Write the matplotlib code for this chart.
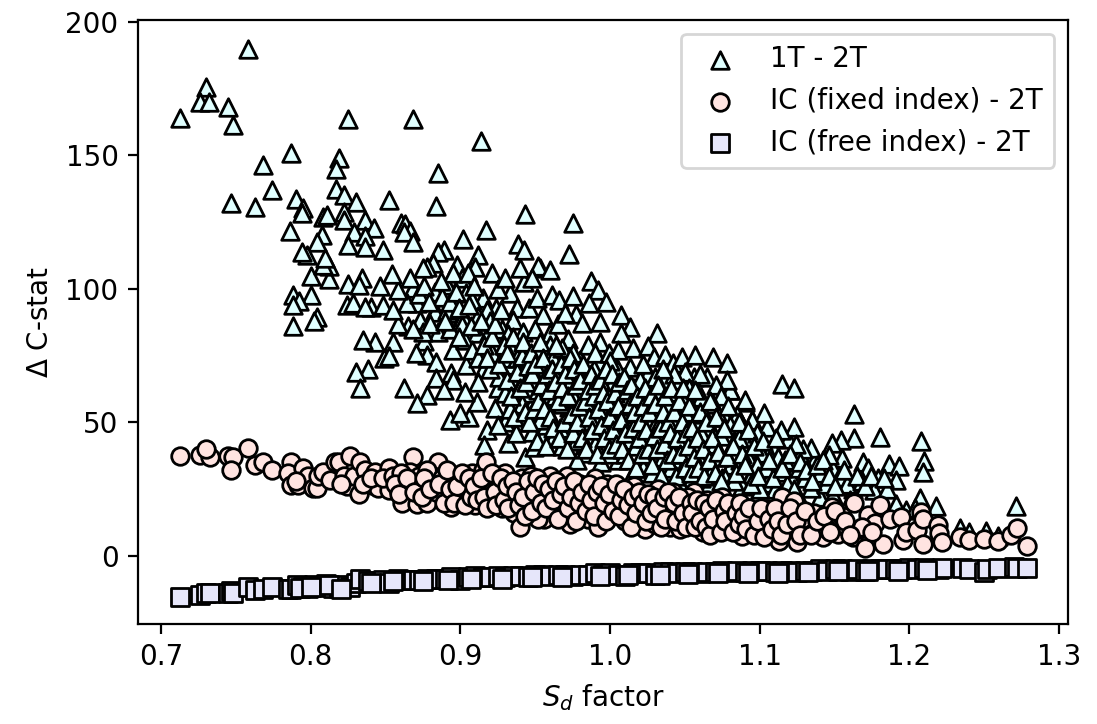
import matplotlib
matplotlib.use('Agg')
import matplotlib.pyplot as plt

# (Sd factor, delta C-stat)
tri_points = [
    (.758,190),(.730,175.6),(.726,170),(.732,170),(.7127,164),(.745,168),(.748,161.4),(.825,163.6),(.868,163.6),(.914,155.4),
    (.787,151),(.768,146.4),(.819,149),(.817,145),(.885,143.4),(.774,137),(.817,137.5),(.747,132),(.763,130.7),(.790,133.7),
    (.795,130.3),(.794,128.5),(.822,135),(.830,132.6),(.852,133.3),(.884,131),(.822,128.8),(.822,125.8),(.808,127),(.811,127.7),
    (.786,121.7),(.836,125.8),(.842,122.8),(.829,121.3),(.836,119.8),(.825,116.5),(.836,115.7),(.8075,120),(.804,117.6),(.848,114.6),
    (.860,124.7),(.863,124.3),(.866,121.7),(.862,121.3),(.868,117.6),(.902,118.7),(.917,122),(.889,114.6),(.885,113.9),(.912,112.7),
    (.882,109.7),(.898,109),(.910,108.2),(.878,108.2),(.875,107.9),(.921,106),(.901,104),(.891,101.5),(.883,98.9),(.904,98.5),
    (.915,96.6),(.924,92.9),(.894,91),(.883,92),(.902,90.3),(.868,100.4),(.871,94.8),(.864,94.8),(.858,99.6),(.854,105.6),
    (.866,104),(.846,101),(.834,104),(.825,102),(.832,101.5),(.824,94),(.828,94.8),(.840,93.3),(.836,93.3),(.848,94),
    (.812,103.7),(.800,104.9),(.812,108.6),(.808,109),(.8095,111.6),(.7975,112.7),(.794,113.9),(.800,97.8),(.788,97.8),(.792,95.5),
    (.788,94),(.804,89.5),(.788,86),(.802,88),(.943,128),(.975,124.5),(.9385,116.8),(.9425,114.6),(.9725,113),(.953,107.9),
    (.952,108.5),(.96,107),(.987,103),(.992,99.6),(.9425,102.6),(.933,98.5),(.918,92),(.938,92.9),(.946,92.9),(.951,96.6),
    (.961,97.8),(.966,95.9),(.975,97.4),(.986,94.8),(.997,95.1),(1.007,90.3),(1.013,85.8),(1.007,83.5),(.993,87.6),(.977,90.6),
    (.981,87.3),(.955,90.3),(.935,88.4),(.883,91.4),(.902,89.5),(.873,88.4),(.885,83.9),(.901,86.5),(.911,83.5),(.919,83.9),
    (.942,83.9),(.96,83.5),(.972,81.3),(.993,80.1),(.985,79),(.98,73.4),(1.031,83.5),(1.015,77.9),(1.025,78.7),(1.029,74.5),
    (1.037,75.3),(1.042,72.3),(1.048,74.5),(1.057,75.3),(1.069,74.5),(1.078,72.3),(.876,80.5),(.895,77.2),(.903,80.9),(.878,75.3),
    (.884,72.7),(.904,71.5),(.916,70.4),(.894,68.5),(.884,66.7),(.912,65.2),(.925,62.9),(.862,62.9),(.878,60.3),(.871,57.3),
    (.893,51),(.906,52),(.900,53.6),(.911,57.7),(.903,61.4),(.923,55.4),(.918,47.2),(.916,41.6),(.932,42.3),(.943,37),
    (.949,40.8),(.93,50.2),(.942,50.2),(.948,46.4),(.955,45.3),(.936,66.7),(.926,67),(.936,58.4),(.939,62.9),(.949,58.4),
    (.9585,65.2),(.969,62.9),(.982,61.4),(1.0,61.4),(.9585,53.9),(.9725,55.8),(.983,53.6),(.9665,47.9),(.9845,47.9),(.998,53.9),
    (1.011,55.8),(1.028,58.4),(1.025,68.5),(1.005,69.7),(.993,72.7),(.9705,72.3),(.9465,72.3),(.933,71.5),(1.013,70.8),(1.042,61.4),
    (1.051,59.6),(1.061,59.6),(1.056,67),(1.065,67),(1.08,62.2),(1.09,57.7),(1.037,54.7),(1.045,51.7),(1.059,50.2),(1.067,48.3),
    (1.077,52),(1.085,52.8),(1.095,51),(1.025,49.8),(1.013,43.4),(1.007,47.2),(.998,46.4),(1.001,42.7),(.995,40.4),(.982,38.6),
    (1.005,36),(1.015,31),(1.045,36),(1.057,42.3),(1.065,38.6),(1.043,44.6),(1.035,44.6),(1.081,34),(1.094,30.3),(1.075,29.2),
    (1.055,29.2),(1.038,29.6),(1.033,34.8),(1.115,64.4),(1.123,63),(1.163,53),(1.163,44),(1.154,43.4),(1.148,42.3),(1.18,44.5),
    (1.208,43),(1.21,35.6),(1.209,31.5),(1.169,35),(1.172,33),(1.186,34.5),(1.193,33.7),(1.191,28.5),(1.179,29),(1.176,24.7),
    (1.162,25),(1.155,36.7),(1.149,32.6),(1.153,29.6),(1.136,35.6),(1.134,40.4),(1.129,36),(1.146,37.8),(1.14,22),(1.134,25.5),
    (1.149,22.8),(1.207,21.7),(1.218,18.7),(1.198,17.2),(1.191,19.5),(1.234,10.5),(1.24,9),(1.251,9.5),(1.259,7.5),(1.271,18.7),
    (1.119,43.8),(1.108,41),(1.105,48.4),(1.103,53.5),(1.123,48.4),(1.114,47),(1.095,51),(1.09,58.4),(1.085,52.8),(1.077,52),
    (1.08,62),(1.078,66),(1.083,42.7),(1.089,42.3),(1.101,38.6),(1.108,36),(1.113,31.5),(1.121,29.6),(1.105,27.3),(1.095,30.7),
    (1.081,34),(1.077,29),(.952,76),(.956,70),(.962,74),(.966,68),(.944,78),(.951,66),(.942,69),(.946,61),
    (.934,78),(.929,74),(.925,80),(.921,76),(.938,74),(.952,62),(.957,59),(.963,60),(.968,57),(.974,66),
    (.978,69),(.984,66),(.989,70),(.996,66),(1.002,65),(1.008,63),(.976,59),(.989,56),(.994,59),(1.003,57),
    (1.009,60),(1.016,63),(1.02,66),(1.021,60),(1.019,54),(1.014,51),(1.008,53),(1.003,50),(.991,51),(.985,44),
    (.977,43),(.972,50),(.962,44),(.957,49),(.953,51),(.968,41),(.978,36),(.99,42),(.994,35),(1.0,38),
    (1.01,38),(1.017,41),(1.023,44),(1.027,41),(1.03,49),(1.034,51),(1.039,57),(1.033,62),(1.036,66),(1.047,66),
    (1.05,69),(1.043,68),(1.053,63),(1.06,68),(1.071,64),(1.074,60),(1.069,57),(1.055,55),(1.05,54),(1.063,53),
    (1.072,53),(1.08,49),(1.088,49),(1.093,44),(1.098,46),(1.086,44),(1.074,45),(1.07,42),(1.061,46),(1.053,47),
    (1.049,42),(1.039,40),(1.028,37),(1.022,33),(1.028,31),(1.035,37),(1.041,33),(1.049,33),(1.053,37),(1.061,35),
    (1.069,33),(1.073,37),(1.087,36),(1.092,37),(1.098,34),(1.104,33),(1.112,37),(1.117,36),(1.126,33),(1.129,40),
    (1.124,42),(1.14,31),(1.144,27),(1.13,29),(1.118,27),(1.11,25),(1.1,25),(1.088,26),(1.083,28),(1.066,27),
    (1.061,29),(1.047,27),(1.125,23),(1.158,27),(1.168,28),(1.185,25),(1.204,18),(.968,78),(.975,76),(.99,76),
    (.999,76),(1.005,77),(.96,79),(1.0,73),(1.022,72),(1.03,67),(1.035,70),(.92,88),(.928,85),(.932,83),
    (.908,77),(.912,74),(.92,70),(.93,61),(.941,57),(.933,55),(.925,49),(.937,46),(.908,96),(.893,85),
    (.891,92),(.875,84),(.865,86),(.858,87),(.855,80),(.843,80),(.849,74),(.852,75),(.835,81),(.838,70),
    (.83,69),(.833,63),(.895,106),(.888,97),(.905,106),(.925,100),(.93,104),(.94,108),(.948,104),(.965,87),
    (.97,91),(.95,85),(.912,90),(.895,66),(.889,62),(.87,76),(.868,85),(.855,92),
    # denser part of the band
    (.872,98),(.876,101),(.879,95),(.88,87),(.887,103),(.89,88),(.893,95),(.897,99),(.899,93),(.899,82),
    (.906,94),(.907,86),(.909,101),(.914,88),(.916,79),(.918,74),(.921,82),(.923,87),(.926,72),(.927,92),
    (.929,79),(.931,66),(.931,76),(.934,60),(.935,82),(.936,52),(.938,69),(.94,63),(.941,75),(.942,80),
    (.943,54),(.944,65),(.945,71),(.946,50),(.947,76),(.948,68),(.949,55),(.95,72),(.951,43),(.952,58),
    (.953,80),(.954,64),(.955,74),(.956,55),(.957,41),(.958,68),(.959,62),(.96,52),(.961,70),(.962,48),
    (.963,65),(.964,79),(.965,58),(.966,44),(.967,72),(.968,63),(.969,50),(.97,68),(.971,40),(.972,60),
    (.973,74),(.974,53),(.975,46),(.976,70),(.977,64),(.978,50),(.979,56),(.98,66),(.981,44),(.982,72),
    (.983,58),(.984,40),(.985,62),(.986,52),(.987,68),(.988,47),(.989,60),(.99,64),(.991,38),(.992,55),
    (.993,66),(.994,49),(.995,61),(.996,44),(.997,70),(.998,58),(.999,40),(1.0,52),(1.001,68),(1.002,47),
    (1.003,61),(1.004,42),(1.005,56),(1.006,65),(1.007,51),(1.008,40),(1.009,67),(1.01,46),(1.011,62),(1.012,36),
    (1.013,57),(1.014,64),(1.015,48),(1.016,54),(1.017,33),(1.018,60),(1.019,44),(1.02,50),(1.021,38),(1.022,56),
    (1.023,63),(1.024,47),(1.025,40),(1.026,54),(1.027,60),(1.028,34),(1.029,45),(1.03,57),(1.031,40),(1.032,64),
    (1.033,48),(1.034,30),(1.035,54),(1.036,42),(1.037,60),(1.038,36),(1.039,50),(1.04,46),(1.041,63),(1.042,38),
    (1.043,54),(1.044,30),(1.045,44),(1.046,58),(1.047,38),(1.048,50),(1.049,63),(1.05,33),(1.051,46),(1.052,41),
    (1.053,56),(1.054,31),(1.055,48),(1.056,37),(1.057,62),(1.058,44),(1.059,33),(1.06,54),(1.062,40),(1.063,30),
    (1.064,50),(1.066,36),(1.067,58),(1.068,44),(1.07,31),(1.071,52),(1.072,39),(1.074,28),(1.076,48),(1.078,37),
    (1.079,56),(1.082,41),(1.084,31),(1.086,50),(1.088,38),(1.09,34),(1.092,47),(1.094,27),(1.096,41),(1.099,30),
    (1.102,43),(1.106,36),(1.109,29),(1.111,44),(1.115,33),(1.12,38),(1.123,25),(1.127,35),(1.131,32),(1.135,28),
    (1.138,34),(1.142,36),(1.146,30),(1.15,26),(1.156,32),(1.16,21),(1.165,30),(1.17,26),(1.174,30),(1.183,29),
]
circ_points = [
    (.7127,37.4),(.726,37.8),(.733,37),(.730,40),(.745,37.5),(.748,37),(.747,32),(.758,40.4),(.763,34),(.768,35),
    (.774,32),(.787,35),(.785,31),(.787,26.6),(.7915,26.5),(.795,33),(.798,30),(.8015,25.5),(.804,25.5),(.805,30),
    (.808,31.5),(.813,28.5),(.816,35),(.819,35),(.822,30),(.824,26),(.826,37.5),(.829,30),(.832,23),(.833,35),
    (.836,32),(.841,26.5),(.843,31.5),(.845,25.5),(.852,33),(.852,24.5),(.858,25),(.861,20),(.868,37),(.868,27.7),
    (.866,31.5),(.871,19.5),(.878,20),(.885,35),(.884,24),(.882,30),(.894,23),(.894,18.5),(.902,27),(.79,28),
    (.82,27),(.835,27),(.84,29),(.848,29),(.855,30),(.86,31),(.863,26),(.872,30),(.875,26),(.878,32),
    (.888,29),(.89,27),(.897,29),(.9,21),(.905,25),(.908,31),(.91,19),(.913,24),(.915,32),(.917,35),
    (.92,28),(.922,20),(.925,26),(.928,18),(.93,31),(.933,23),(.936,16),(.938,21),(.94,11),(.941,29),
    (.944,25),(.947,30),(.95,19),(.953,26),(.956,14),(.958,22),(.96,30),(.963,17),(.966,25),(.968,20),
    (.971,30),(.973,12),(.975,24),(.978,16),(.98,27),(.983,20),(.985,14),(.988,25),(.99,29),(.992,11),
    (.995,18),(.998,27),(1.0,15),(1.003,22),(1.005,25),(1.008,20),(1.01,13),(1.013,18),(1.016,26),(1.018,14),
    (1.02,23),(1.023,10),(1.026,17),(1.028,20),(1.03,12),(1.032,25),(1.035,15),(1.038,20),(1.04,11),(1.042,24),
    (1.045,15),(1.047,10),(1.05,19),(1.053,13),(1.056,24),(1.059,17),(1.062,9),(1.065,21),(1.068,14),(1.07,19),
    (1.073,11),(1.075,22),(1.078,10.5),(1.081,14.6),(1.085,18.7),(1.088,7.5),(1.09,12),(1.095,13.5),(1.098,16),(1.102,9.8),
    (1.105,17.6),(1.109,15.4),(1.113,5.6),(1.115,22),(1.117,11.2),(1.121,14.6),(1.122,9),(1.123,20.6),(1.125,5.2),(1.132,11.6),
    (1.136,16),(1.14,11),(1.142,7),(1.148,18.4),(1.149,13.8),(1.152,8.2),(1.158,10.4),(1.162,7),(1.163,19.8),(1.166,10),
    (1.17,3),(1.172,15.3),(1.177,12.4),(1.18,19),(1.182,4.5),(1.187,14),(1.194,14.6),(1.196,6),(1.198,9),(1.205,9.8),
    (1.208,16.5),(1.209,13.8),(1.209,4.5),(1.219,11.5),(1.22,8.7),(1.222,5.2),(1.234,7),(1.24,6),(1.25,6.3),(1.259,5.7),
    (1.268,8),(1.272,10.5),(1.2785,3.7),(.899,30),(.912,28),(.926,22),(.934,27),(.946,22),(.952,14),(.961,25),
    (.97,16),(.982,24),(.993,22),(1.001,20),(1.011,24),(1.021,17),(1.033,19),(1.041,18),(1.052,22),(1.061,15),
    (1.072,16),(1.083,13),(1.092,18),(1.107,12),(1.119,16),(1.128,14),(1.145,10),(1.155,15),(1.168,11),(1.175,9),
    # denser part of the band
    (.856,27),(.859,23),(.864,29),(.869,24),(.874,22),(.876,29),(.88,25),(.886,27),(.889,20),(.891,32),
    (.893,25),(.896,20),(.898,26),(.901,31),(.903,19),(.906,29),(.907,22),(.909,26),(.911,21),(.914,29),
    (.916,22),(.918,18),(.921,31),(.923,24),(.924,19),(.927,29),(.929,21),(.931,26),(.932,18),(.935,28),
    (.937,24),(.939,19),(.942,22),(.943,15),(.945,28),(.948,17),(.949,24),(.951,29),(.954,20),(.955,27),
    (.957,18),(.959,25),(.962,21),(.964,28),(.965,14),(.967,23),(.969,26),(.972,18),(.974,22),(.976,28),
    (.977,13),(.979,20),(.981,24),(.984,17),(.986,27),(.987,21),(.989,15),(.991,24),(.994,26),(.996,20),
    (.997,13),(.999,23),(1.002,17),(1.004,27),(1.006,15),(1.007,21),(1.009,25),(1.012,19),(1.014,11),(1.015,22),
    (1.017,16),(1.019,24),(1.022,20),(1.024,13),(1.025,23),(1.027,16),(1.029,22),(1.031,18),(1.034,11),(1.036,22),
    (1.037,14),(1.039,24),(1.043,20),(1.044,13),(1.046,22),(1.049,16),(1.051,11),(1.054,20),(1.055,16),(1.057,11),
    (1.058,21),(1.06,13),(1.063,20),(1.064,11),(1.066,18),(1.067,8),(1.069,14),(1.071,21),(1.074,9),(1.076,17),
    (1.077,13),(1.079,20),(1.082,9),(1.084,16),(1.086,12),(1.087,20),(1.089,15),(1.091,10),(1.093,18),(1.096,8),
    (1.099,13),(1.101,18),(1.103,7),(1.106,14),(1.108,10),(1.11,18),(1.112,13),(1.114,8),(1.118,12),(1.12,18),
    (1.124,13),(1.127,8),(1.13,17),(1.134,8),(1.138,13),(1.143,15),(1.147,9),(1.15,17),(1.157,13),(1.16,8),
]
sq_points = [
    (.7127,-15.4),(.726,-14.8),(.730,-13.9),(.733,-14),(.745,-14),(.747,-13),(.748,-14),(.758,-11.5),(.763,-12.7),(.768,-12.5),
    (.774,-11.6),(.785,-12.5),(.787,-12.5),(.791,-11),(.795,-11.5),(.798,-12),(.802,-11),(.805,-11.5),(.81,-10.5),(.815,-12),
    (.819,-12),(.822,-11),(.826,-11.5),(.83,-10),(.833,-8.5),(.838,-9.5),(.843,-9.5),(.848,-9),(.852,-10),(.858,-8.5),
    (.862,-9),(.868,-9),(.872,-9),(.878,-8.5),(.884,-8.5),(.89,-8.5),(.894,-8),(.9,-9),(.905,-8),(.91,-7.5),
    (.915,-8),(.92,-8),(.925,-7.5),(.93,-8),(.935,-7.5),(.94,-7.5),(.945,-8),(.95,-7),(.955,-7),(.96,-7.5),
    (.965,-7),(.97,-7),(.975,-7.5),(.98,-7),(.985,-7),(.99,-6.5),(.995,-7),(1.0,-6.5),(1.005,-7),(1.01,-7.5),
    (1.015,-6.5),(1.02,-6.5),(1.025,-6.5),(1.03,-7),(1.035,-6),(1.04,-6),(1.045,-6.5),(1.05,-6),(1.055,-6),(1.06,-6.5),
    (1.065,-6),(1.07,-6),(1.075,-5.5),(1.08,-6),(1.085,-5.5),(1.09,-6),(1.095,-5.5),(1.1,-5.5),(1.105,-5.5),(1.11,-6),
    (1.115,-5.5),(1.12,-5.5),(1.125,-6),(1.13,-5.5),(1.135,-5.5),(1.14,-5),(1.145,-5.5),(1.15,-5),(1.155,-5),(1.16,-5.5),
    (1.165,-5),(1.17,-5.5),(1.175,-5),(1.18,-5),(1.185,-4.8),(1.19,-5),(1.195,-5),(1.2,-4.6),(1.205,-4.8),(1.21,-4.6),
    (1.22,-4.8),(1.222,-4.6),(1.235,-4.6),(1.24,-5),(1.25,-6),(1.252,-4.8),(1.259,-4.6),(1.27,-4),(1.272,-4.4),(1.2785,-4.5),
    (.793,-12),(.8,-11.5),(.812,-11),(.82,-12.5),(.84,-10),(.855,-9.5),(.875,-9.5),(.892,-9),(.907,-8.7),(.928,-8.5),
    (.948,-8),(.968,-8),(.993,-7.5),(1.012,-7),(1.033,-7),(1.052,-6.7),(1.072,-6.5),(1.092,-6.3),(1.112,-6.5),(1.132,-6),
    (1.152,-5.8),(1.172,-5.8),(1.192,-5.5),(1.212,-5.2),
]

tri_x, tri_y = zip(*tri_points)
circ_x, circ_y = zip(*circ_points)
sq_x, sq_y = zip(*sq_points)

fig = plt.figure(figsize=(10.97 / 2, 7.24 / 2), dpi=200)
ax = fig.add_axes([138 / 1097, 1 - 624 / 724, 930 / 1097, 604 / 724])

ax.scatter(tri_x, tri_y, marker='^', s=40, c='lightcyan', edgecolors='black', label='1T - 2T')
ax.scatter(circ_x, circ_y, marker='o', s=40, c='mistyrose', edgecolors='black', label='IC (fixed index) - 2T')
ax.scatter(sq_x, sq_y, marker='s', s=40, c='lavender', edgecolors='black', label='IC (free index) - 2T')

ax.set_xlim(0.6846, 1.3059)
ax.set_ylim(-25.5, 200.7)
ax.set_xticks([0.7, 0.8, 0.9, 1.0, 1.1, 1.2, 1.3])
ax.set_yticks([0, 50, 100, 150, 200])
ax.set_xlabel(r'$S_d$ factor')
ax.set_ylabel(r'$\Delta$ C-stat')
ax.legend(loc='upper right')

fig.savefig('out.png', dpi=200)
